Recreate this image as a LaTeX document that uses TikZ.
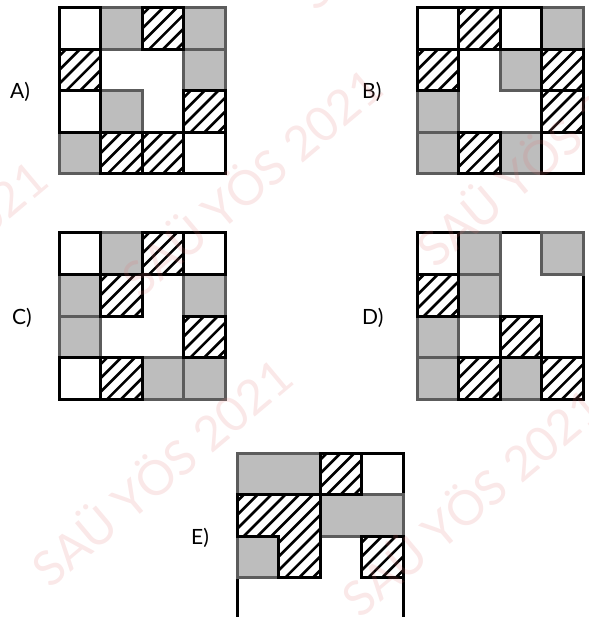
\documentclass[tikz,border=0pt]{standalone}
\usepackage{fontspec}
\setmainfont{Lato}
\definecolor{grigio}{HTML}{BDBDBD}
\definecolor{bordogrigio}{HTML}{5C5C5C}
\definecolor{rosa}{HTML}{E07070}

\tikzset{
  nero/.style={draw=black, line width=3pt},
  cella grigia/.style={fill=grigio, draw=bordogrigio, line width=3pt},
  riga/.style={line width=2.6pt},
  etichetta/.style={font=\fontsize{21}{21}\selectfont, inner sep=0pt, anchor=west},
  filigrana/.style={font=\fontsize{48}{48}\selectfont, text=rosa, text opacity=0.16, rotate=40}
}
\def\passo{0.3333} % passo del tratteggio (in celle)
\newcommand{\tratteggia}[1]{%
  \begin{scope}
    \clip #1;
    \foreach \k in {0,...,24}
      \draw[riga] ({(\k+0.5)*\passo},0) -- ++(-5,5);
  \end{scope}
  \draw[nero] #1;}

\begin{document}
\begin{tikzpicture}[x=1pt, y=-1pt]
  \useasboundingbox (0,0) rectangle (588,617);
  \clip (0,0) rectangle (588,617);

  % Etichette
  \node[etichetta] (labA) at (10,92) {A)};
  \node[etichetta] (labB) at (362,92) {B)};
  \node[etichetta] (labC) at (12,318) {C)};
  \node[etichetta] (labD) at (362,318) {D)};
  \node[etichetta] (labE) at (191,538) {E)};

  % Pannello A
  \begin{scope}[shift={(59,8)}, x=41.5pt, y=-41.5pt]
    \draw[nero, fill=white] (0,0) rectangle (4,4);
    \foreach \i/\j in {1/0,3/0,3/1,1/2,0/3}
      \draw[cella grigia] (\i,\j) rectangle ++(1,1);
    \foreach \i/\j in {0/0,0/2,3/3}
      \draw[nero] (\i,\j) rectangle ++(1,1);
    \foreach \i/\j in {2/0,0/1,3/2,1/3,2/3}
      \tratteggia{(\i,\j) rectangle ++(1,1)};
  \end{scope}

  % Pannello B
  \begin{scope}[shift={(417,8)}, x=41.5pt, y=-41.5pt]
    \draw[nero, fill=white] (0,0) rectangle (4,4);
    \foreach \i/\j in {3/0,2/1,0/2,0/3,2/3}
      \draw[cella grigia] (\i,\j) rectangle ++(1,1);
    \foreach \i/\j in {0/0,2/0,3/3}
      \draw[nero] (\i,\j) rectangle ++(1,1);
    \foreach \i/\j in {1/0,0/1,3/1,3/2,1/3}
      \tratteggia{(\i,\j) rectangle ++(1,1)};
  \end{scope}

  % Pannello C
  \begin{scope}[shift={(59,233)}, x=41.5pt, y=-41.5pt]
    \draw[nero, fill=white] (0,0) rectangle (4,4);
    \foreach \i/\j in {1/0,0/1,3/1,0/2,2/3,3/3}
      \draw[cella grigia] (\i,\j) rectangle ++(1,1);
    \foreach \i/\j in {0/0,3/0,0/3}
      \draw[nero] (\i,\j) rectangle ++(1,1);
    \foreach \i/\j in {2/0,1/1,3/2,1/3}
      \tratteggia{(\i,\j) rectangle ++(1,1)};
  \end{scope}

  % Pannello D
  \begin{scope}[shift={(417,233)}, x=41.5pt, y=-41.5pt]
    \draw[nero, fill=white] (0,0) rectangle (4,4);
    \foreach \i/\j in {1/0,3/0,1/1,0/2,0/3,2/3}
      \draw[cella grigia] (\i,\j) rectangle ++(1,1);
    \draw[nero] (0,0) rectangle (1,1);
    \foreach \i/\j in {0/1,2/2,1/3,3/3}
      \tratteggia{(\i,\j) rectangle ++(1,1)};
  \end{scope}

  % Pannello E (tagliato in basso)
  \begin{scope}[shift={(237,453)}, x=41.5pt, y=-41.5pt]
    \draw[nero, fill=white] (0,0) rectangle (4,4);
    \draw[cella grigia] (0,0) rectangle (2,1);
    \draw[cella grigia] (2,1) rectangle (4,2);
    \draw[cella grigia] (0,2) rectangle (1,3);
    \tratteggia{(2,0) rectangle (3,1)};
    \tratteggia{(0,1) -- (2,1) -- (2,3) -- (1,3) -- (1,2) -- (0,2) -- cycle};
    \tratteggia{(3,2) rectangle (4,3)};
  \end{scope}

  % Filigrana
  \node[filigrana] (fil1) at (250,180) {SAÜ YÖS 2021};
  \node[filigrana] (fil2) at (160,470) {SAÜ YÖS 2021};
  \node[filigrana] (fil3) at (545,150) {SAÜ YÖS 2021};
  \node[filigrana] (fil4) at (470,500) {SAÜ YÖS 2021};
  \node[filigrana] (fil5) at (-85,272) {SAÜ YÖS 2021};
  \node[filigrana] (fil6) at (425,-107) {SAÜ YÖS 2021};
\end{tikzpicture}
\end{document}
